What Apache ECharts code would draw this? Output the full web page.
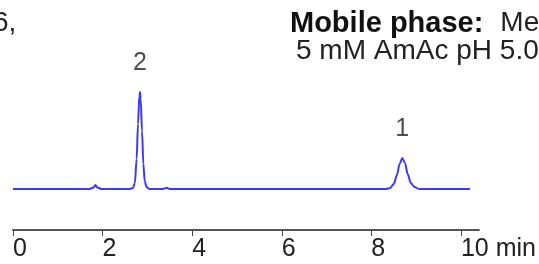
<!DOCTYPE html>
<html>
<head>
<meta charset="utf-8">
<script src="https://cdn.jsdelivr.net/npm/echarts@6/dist/echarts.min.js"></script>
<style>
  html, body { margin: 0; padding: 0; background: #fff; }
  #chart { width: 539px; height: 264px; }
</style>
</head>
<body>
<div id="chart"></div>
<script>
// chromatogram trace: [time (min), signal]
var trace = [
    [0, 0], [1.70, 0], [1.80, 1.5], [1.84, 4], [1.88, 1.5], [1.98, 0],
    [2.60, 0], [2.68, 1], [2.72, 6], [2.76, 30], [2.79, 65], [2.82, 93],
    [2.835, 97], [2.85, 90], [2.88, 58], [2.91, 25], [2.94, 8], [2.98, 2],
    [3.05, 0], [3.35, 0], [3.43, 1.2], [3.50, 0],
    [8.32, 0], [8.42, 1], [8.50, 5], [8.57, 14], [8.63, 25], [8.69, 31],
    [8.75, 26], [8.81, 15], [8.88, 6], [8.96, 2], [9.07, 0], [10.2, 0]
];
// peak labels: [time, height, name]
var peaks = [
    [2.835, 97, '2'],
    [8.69, 31, '1']
];
var xTicks = [0, 2, 4, 6, 8, 10];

var font = 'Liberation Sans, Arial, sans-serif';
var chart = echarts.init(document.getElementById('chart'));
chart.setOption({
    animation: false,
    grid: { left: 13, right: 56, top: 80, bottom: 34 },
    xAxis: {
        type: 'value',
        min: 0,
        max: 10.4,
        axisLine: { onZero: false, lineStyle: { color: '#555', width: 2 } },
        axisTick: { customValues: xTicks, length: 6, lineStyle: { color: '#444', width: 1 } },
        axisLabel: {
            customValues: xTicks,
            align: 'left',
            margin: 7,
            color: '#222',
            fontSize: 25,
            fontFamily: font,
            formatter: function (v) { return v === 10 ? '10 min' : String(v); }
        },
        splitLine: { show: false }
    },
    yAxis: { type: 'value', min: -41, max: 109, show: false },
    series: [{
        type: 'line',
        data: trace,
        showSymbol: false,
        smooth: 0.3,
        smoothMonotone: 'x',
        lineStyle: { color: '#3a3aff', width: 2 }
    }, {
        type: 'scatter',
        data: peaks,
        symbolSize: 0,
        label: {
            show: true,
            position: 'top',
            distance: 16,
            color: '#222',
            fontSize: 25,
            fontFamily: font,
            formatter: function (p) { return p.data[2]; }
        }
    }],
    graphic: [{
        type: 'text',
        left: 290,
        top: 9,
        style: {
            text: '{b|Mobile phase:}{r|Methanol/}',
            rich: {
                b: { fontSize: 29, fontWeight: 'bold', fill: '#111', fontFamily: font, padding: [0, 17, 0, 0] },
                r: { fontSize: 28, fill: '#222', fontFamily: font }
            }
        }
    }, {
        type: 'text',
        left: 296,
        top: 37,
        style: { text: '5 mM AmAc pH 5.0', fontSize: 28, fill: '#222', fontFamily: font }
    }, {
        type: 'text',
        left: -7,
        top: 9,
        style: { text: '6,', fontSize: 28, fill: '#222', fontFamily: font }
    }]
});
</script>
</body>
</html>
